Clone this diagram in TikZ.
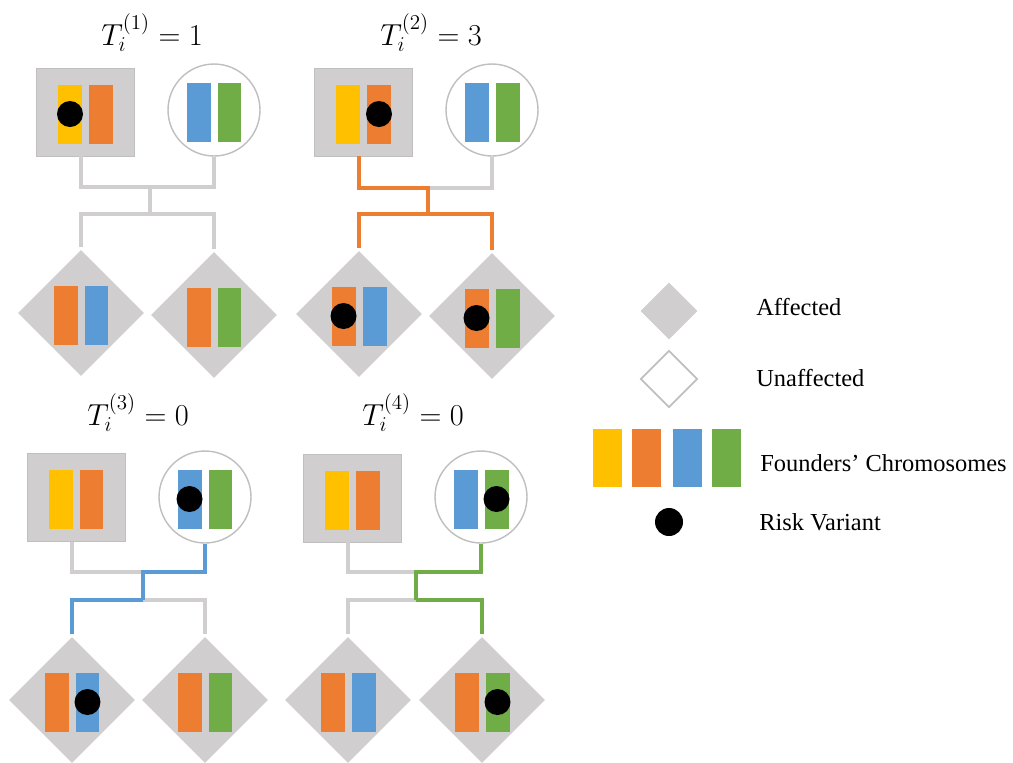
\documentclass[tikz,border=0pt]{standalone}
\usepackage[no-math]{fontspec}
\setmainfont{Liberation Serif}
\usepackage{tikz}
\usetikzlibrary{shapes.geometric}

\definecolor{affgray}{HTML}{D0CECE}
\definecolor{rimgray}{HTML}{BFBFBF}
\definecolor{chryel}{HTML}{FFC000}
\definecolor{chrora}{HTML}{ED7D31}
\definecolor{chrblu}{HTML}{5B9BD5}
\definecolor{chrgre}{HTML}{70AD47}

\begin{document}
\begin{tikzpicture}[x=0.02cm, y=-0.02cm,
        male/.style={rectangle, fill=affgray, draw=rimgray, line width=0.4pt, minimum width=19.6mm, minimum height=17.6mm, inner sep=0pt},
        female/.style={circle, fill=white, draw=rimgray, line width=0.8pt, minimum size=18.4mm, inner sep=0pt},
        child/.style={diamond, fill=affgray, minimum width=25.2mm, minimum height=25.2mm, inner sep=0pt},
        chrom/.style={rectangle, minimum width=4.8mm, minimum height=11.8mm, inner sep=0pt},
        variant/.style={circle, fill=black, minimum size=5.2mm, inner sep=0pt},
        link/.style={line width=2.8pt, draw=affgray},
        title/.style={font=\fontsize{17.28}{20}\selectfont},
        legend/.style={anchor=west, inner sep=0pt, font=\fontsize{13.9}{16}\selectfont}]
    \useasboundingbox (0,0) rectangle (1013,762);

    % family 1
    \node[title]  (t1)  at (152,33)    {$T_i^{(1)} = 1$};
    \node[male]   (f1)  at (85.5,112)  {};
    \node[female] (m1)  at (214,110)   {};
    \node[child]  (k11) at (81,313)    {};
    \node[child]  (k12) at (214,315)   {};
    \coordinate   (u1)  at (150,187);
    \coordinate   (s1)  at (150,214);

    % family 2
    \node[title]  (t2)  at (431,33)    {$T_i^{(2)} = 3$};
    \node[male]   (f2)  at (363.5,112) {};
    \node[female] (m2)  at (492,110)   {};
    \node[child]  (k21) at (359,314)   {};
    \node[child]  (k22) at (492,316)   {};
    \coordinate   (u2)  at (428,188);
    \coordinate   (s2)  at (428,214);

    % family 3
    \node[title]  (t3)  at (138,413)   {$T_i^{(3)} = 0$};
    \node[male]   (f3)  at (76,497.5)  {};
    \node[female] (m3)  at (205,497)   {};
    \node[child]  (k31) at (72,700)    {};
    \node[child]  (k32) at (205,700)   {};
    \coordinate   (u3)  at (143,572);
    \coordinate   (s3)  at (143,600);

    % family 4
    \node[title]  (t4)  at (413,413)   {$T_i^{(4)} = 0$};
    \node[male]   (f4)  at (352,498)   {};
    \node[female] (m4)  at (481,497)   {};
    \node[child]  (k41) at (348,700)   {};
    \node[child]  (k42) at (482,700)   {};
    \coordinate   (u4)  at (416,572);
    \coordinate   (s4)  at (416,600);

    % chromosome pairs
    \foreach \n/\a/\b in {f1/chryel/chrora, m1/chrblu/chrgre, k11/chrora/chrblu, k12/chrora/chrgre,
                          f2/chryel/chrora, m2/chrblu/chrgre, k21/chrora/chrblu, k22/chrora/chrgre,
                          f3/chryel/chrora, m3/chrblu/chrgre, k31/chrora/chrblu, k32/chrora/chrgre,
                          f4/chryel/chrora, m4/chrblu/chrgre, k41/chrora/chrblu, k42/chrora/chrgre}
    {
        \node[chrom, fill=\a] (\n-l) at ([xshift=-3.1mm, yshift=-0.4mm]\n) {};
        \node[chrom, fill=\b] (\n-r) at ([xshift=3.1mm, yshift=-0.4mm]\n) {};
    }

    % risk variants
    \foreach \c in {f1-l, f2-r, k21-l, k22-l, m3-l, k31-r, m4-r, k42-r}
        \node[variant] (v-\c) at (\c) {};

    % lines of descent
    \draw[link] (f1.south -| k11) |- (u1) -| (m1.south);
    \draw[link] (u1) -- (s1);
    \draw[link, shorten <=0.5mm, shorten >=0.5mm] (k11.north) |- (s1) -| (k12.north);

    \draw[link] (u2) -| (m2.south);
    \draw[link, draw=chrora] (f2.south -| k21) |- (u2) -- (s2);
    \draw[link, draw=chrora, shorten <=0.5mm, shorten >=0.5mm] (k21.north) |- (s2) -| (k22.north);

    \draw[link] (f3.south -| k31) |- (u3);
    \draw[link, shorten >=0.5mm] (s3) -| (k32.north);
    \draw[link, draw=chrblu] (m3.south) |- (u3) -- (s3);
    \draw[link, draw=chrblu, shorten >=0.5mm] (s3) -| (k31.north);

    \draw[link] (f4.south -| k41) |- (u4);
    \draw[link, shorten >=0.5mm] (s4) -| (k41.north);
    \draw[link, draw=chrgre] (m4.south) |- (u4) -- (s4);
    \draw[link, draw=chrgre, shorten >=0.5mm] (s4) -| (k42.north);

    % key
    \node[child, minimum width=11.4mm, minimum height=11.4mm] (key-aff) at (669,311) {};
    \node[child, fill=white, draw=rimgray, line width=1pt, minimum width=11.4mm, minimum height=11.4mm] (key-unaff) at (669,379) {};
    \foreach \c/\x in {chryel/607.5, chrora/646.5, chrblu/687.5, chrgre/726.5}
        \node[chrom, fill=\c, minimum width=5.8mm, minimum height=11.6mm] (key-\c) at (\x,458) {};
    \node[variant, minimum size=5.6mm] (key-dot) at (669,522) {};

    \node[legend] (l-aff)   at (756,307) {Affected};
    \node[legend] (l-unaff) at (756,378) {Unaffected};
    \node[legend] (l-chr)   at (760,463) {Founders’ Chromosomes};
    \node[legend] (l-var)   at (759,522) {Risk Variant};
\end{tikzpicture}
\end{document}
